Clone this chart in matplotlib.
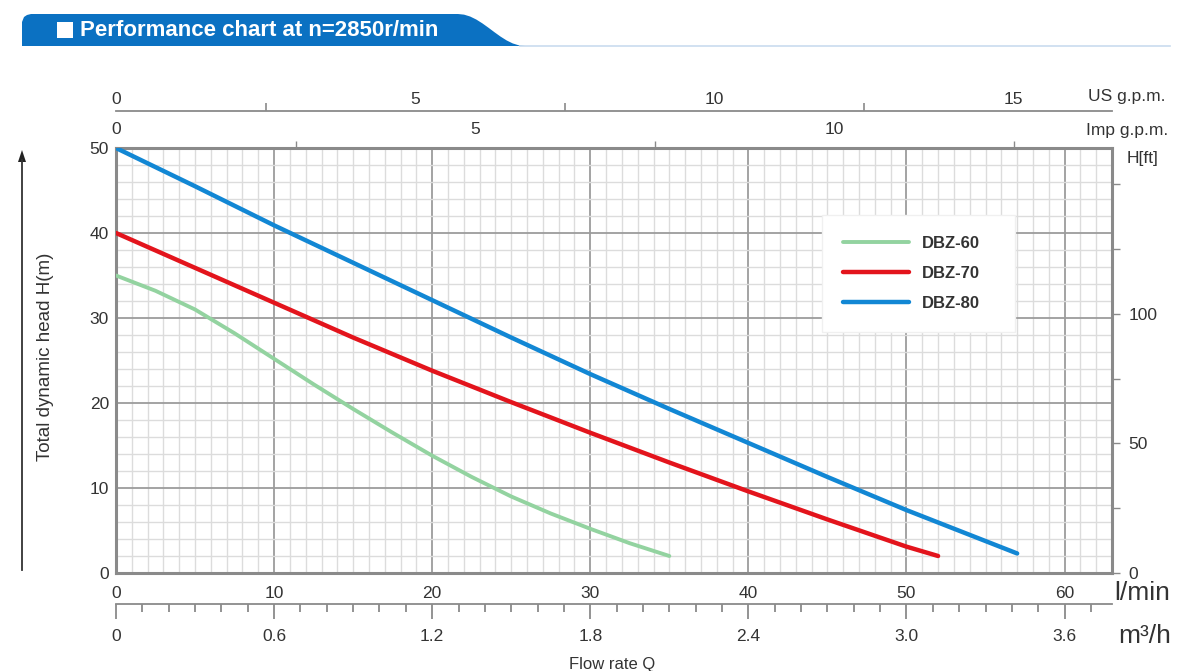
import numpy as np
import matplotlib.pyplot as plt
from matplotlib.patches import Polygon, Rectangle
from matplotlib.lines import Line2D

plt.rcParams['font.family'] = ['Liberation Sans', 'DejaVu Sans']

# pump curves (flow in l/min, head in m)
flow_60 = [0, 2.5, 5, 7.5, 10, 12.5, 15, 17.5, 20, 22.5, 25, 27.5, 30, 32.5, 35]
head_60 = [35, 33.2, 31.0, 28.2, 25.2, 22.2, 19.3, 16.5, 13.8, 11.3, 9.0, 7.0, 5.2, 3.5, 2.0]
flow_70 = [0, 5, 10, 15, 20, 25, 30, 35, 40, 45, 50, 52]
head_70 = [40, 35.9, 31.8, 27.7, 23.8, 20.1, 16.5, 13.0, 9.6, 6.3, 3.1, 2.0]
flow_80 = [0, 5, 10, 15, 20, 25, 30, 35, 40, 45, 50, 57]
head_80 = [50, 45.5, 40.9, 36.5, 32.1, 27.7, 23.4, 19.3, 15.3, 11.3, 7.4, 2.3]

models = ['DBZ-60', 'DBZ-70', 'DBZ-80']
colors = ['#93d3a0', '#e3141c', '#1287d4']
widths = [2.8, 3.2, 3.2]

lpm_ticks = [0, 10, 20, 30, 40, 50, 60]
m3h_ticks = [0, 0.6, 1.2, 1.8, 2.4, 3.0, 3.6]
m3h_labels = ['0', '0.6', '1.2', '1.8', '2.4', '3.0', '3.6']
imp_ticks = [0, 5, 10]
us_ticks = [0, 5, 10, 15]
ft_ticks = [0, 25, 50, 75, 100, 125, 150]
ft_labels = ['0', '', '50', '', '100', '', '']

TXT = '#333333'
GREY = '#8a8a8a'
W, H = 1200, 671

fig = plt.figure(figsize=(12, 6.71), dpi=100)

def fx(px):
    return px / W

def fy(py):
    return 1 - py / H

# header banner
xs = [22, 22, 24, 27, 31]
ys = [46, 22, 17, 15, 14]
for t in np.linspace(0, 1, 12):
    xs.append(458 + 67 * t)
    ys.append(14 + 32 * (0.5 - 0.5 * np.cos(np.pi * t)))
banner = Polygon([(fx(a), fy(b)) for a, b in zip(xs, ys)], closed=True,
                 transform=fig.transFigure, facecolor='#0b71c2', edgecolor='none')
fig.patches.append(banner)
fig.add_artist(Line2D([fx(520), fx(1170)], [fy(46), fy(46)], color='#c9dcef', lw=1.2))
fig.patches.append(Rectangle((fx(57), fy(38)), fx(16), 16 / H, transform=fig.transFigure,
                             facecolor='white', edgecolor='none'))
fig.text(fx(80), fy(30), 'Performance chart at n=2850r/min', color='white',
         fontsize=16, fontweight='bold', va='center', ha='left')

# main axes
x0, x1, y0, y1 = 116, 1112, 573, 148
ax = fig.add_axes([fx(x0), fy(y0), (x1 - x0) / W, (y0 - y1) / H])
ax.set_xlim(0, 63)
ax.set_ylim(0, 50)

for flow, head, name, c, lw in zip([flow_60, flow_70, flow_80], [head_60, head_70, head_80],
                                   models, colors, widths):
    ax.plot(flow, head, color=c, lw=lw, label=name, solid_capstyle='round', zorder=3)

ax.set_xticks(lpm_ticks)
ax.set_xticks(np.arange(0, 64, 1), minor=True)
ax.set_yticks([0, 10, 20, 30, 40, 50])
ax.set_yticks(np.arange(0, 51, 2), minor=True)
ax.grid(which='major', color='#9c9c9c', lw=1.3)
ax.grid(which='minor', color='#dcdcdc', lw=1.0)
ax.set_axisbelow(True)
ax.tick_params(which='both', length=0, labelsize=12.5, labelcolor=TXT)
ax.tick_params(axis='x', pad=9)
ax.tick_params(axis='y', pad=5)
for s in ax.spines.values():
    s.set_color(GREY)
    s.set_linewidth(2.2)

leg = ax.legend(loc='upper left', bbox_to_anchor=(0.709, 0.591, 0.194, 0.251), mode='expand',
                borderaxespad=0, frameon=True, fancybox=False, borderpad=1.25,
                handlelength=3.95, handletextpad=0.8, labelspacing=0.9,
                prop={'size': 12, 'weight': 'bold'})
leg.get_frame().set_facecolor('white')
leg.get_frame().set_edgecolor('#f0f0f0')
leg.get_frame().set_alpha(1)
for t in leg.get_texts():
    t.set_color(TXT)

# right axis in feet
ax2 = ax.twinx()
ax2.set_ylim(0, 50 * 3.28084)
ax2.set_yticks(ft_ticks)
ax2.set_yticklabels(ft_labels)
ax2.tick_params(axis='y', length=6, width=1, color=GREY, labelsize=12.5, labelcolor=TXT, pad=6)
for s in ax2.spines.values():
    s.set_visible(False)

# m3/h axis below
sec = ax.secondary_xaxis(-0.073, functions=(lambda v: v * 0.06, lambda v: v / 0.06))
sec.set_xticks(m3h_ticks)
sec.set_xticklabels(m3h_labels)
sec.set_xticks(np.arange(0, 3.75, 0.1), minor=True)
sec.tick_params(which='major', length=11, width=1.3, color=GREY, labelsize=12.5,
                labelcolor=TXT, pad=7)
sec.tick_params(which='minor', length=6, width=1.3, color=GREY)
sec.spines['bottom'].set_color(GREY)
sec.spines['bottom'].set_linewidth(1.3)

# Imp g.p.m. on top of box
imp = ax.secondary_xaxis('top', functions=(lambda v: v / 4.54609, lambda v: v * 4.54609))
imp.set_xticks(imp_ticks)
imp.set_xticks([2.5, 7.5, 12.5], minor=True)
imp.tick_params(which='major', length=0, labelsize=12.5, labelcolor=TXT, pad=8)
imp.tick_params(which='minor', length=5, width=1, color=GREY)
imp.spines['top'].set_visible(False)

# US g.p.m. line above
us = ax.secondary_xaxis(1.087, functions=(lambda v: v / 3.78541, lambda v: v * 3.78541))
us.set_xticks(us_ticks)
us.set_xticks([2.5, 7.5, 12.5], minor=True)
us.tick_params(which='major', length=0, labelsize=12.5, labelcolor=TXT, pad=3)
us.tick_params(which='minor', length=6, width=1.2, color=GREY)
us.spines['top'].set_color(GREY)
us.spines['top'].set_linewidth(1.3)

# unit labels
fig.text(fx(1088), fy(96), 'US g.p.m.', fontsize=12.5, color=TXT, va='center', ha='left')
fig.text(fx(1086), fy(130), 'Imp g.p.m.', fontsize=12.5, color=TXT, va='center', ha='left')
fig.text(fx(1127), fy(159), 'H[ft]', fontsize=12.5, color=TXT, va='center', ha='left')
fig.text(fx(1114), fy(593), 'l/min', fontsize=19, color=TXT, va='center', ha='left')
fig.text(fx(1118), fy(636), 'm³/h', fontsize=19, color=TXT, va='center', ha='left')
fig.text(fx(612), fy(657), 'Flow rate Q', fontsize=12, color=TXT, va='top', ha='center')

fig.text(fx(46), fy(357), 'Total dynamic head H(m)', fontsize=13.5, color=TXT,
         rotation=90, va='center', ha='center')
fig.add_artist(Line2D([fx(22), fx(22)], [fy(570), fy(160)], color='#333333', lw=1.3))
fig.patches.append(Polygon([(fx(18), fy(162)), (fx(26), fy(162)), (fx(22), fy(150))],
                           closed=True, transform=fig.transFigure, facecolor='#222222',
                           edgecolor='none'))

fig.savefig('out.png', dpi=100)
